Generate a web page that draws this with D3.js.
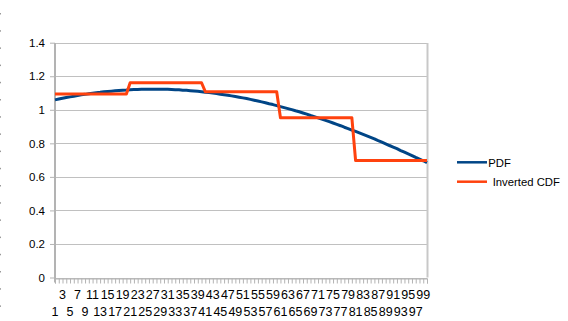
<!DOCTYPE html>
<html>
<head>
<meta charset="utf-8">
<script src="https://cdn.jsdelivr.net/npm/d3@7"></script>
<style>
  body { margin: 0; background: #fff; }
  svg { display: block; }
</style>
</head>
<body>
<div id="js_chart"></div>
<script>
// Data
const categories = d3.range(1, 101);

const pdfValues = [
  1.059, 1.064, 1.069, 1.073, 1.077, 1.081, 1.085, 1.089, 1.092, 1.096,
  1.099, 1.102, 1.104, 1.107, 1.109, 1.111, 1.113, 1.115, 1.117, 1.118,
  1.120, 1.121, 1.121, 1.122, 1.123, 1.123, 1.123, 1.123, 1.123, 1.122,
  1.122, 1.121, 1.120, 1.119, 1.117, 1.116, 1.114, 1.112, 1.110, 1.108,
  1.105, 1.103, 1.100, 1.097, 1.093, 1.090, 1.087, 1.083, 1.079, 1.075,
  1.071, 1.067, 1.062, 1.057, 1.052, 1.047, 1.042, 1.036, 1.031, 1.025,
  1.019, 1.013, 1.007, 1.001, 0.994, 0.988, 0.981, 0.974, 0.966, 0.959,
  0.952, 0.944, 0.937, 0.929, 0.921, 0.913, 0.905, 0.896, 0.888, 0.879,
  0.871, 0.862, 0.853, 0.844, 0.835, 0.826, 0.816, 0.807, 0.797, 0.787,
  0.778, 0.768, 0.757, 0.747, 0.737, 0.727, 0.716, 0.706, 0.696, 0.685
];

const cdfValues = [
  1.094, 1.094, 1.094, 1.094, 1.094, 1.094, 1.094, 1.094, 1.094, 1.094,
  1.094, 1.094, 1.094, 1.094, 1.094, 1.094, 1.094, 1.094, 1.094, 1.094,
  1.161, 1.161, 1.161, 1.161, 1.161, 1.161, 1.161, 1.161, 1.161, 1.161,
  1.161, 1.161, 1.161, 1.161, 1.161, 1.161, 1.161, 1.161, 1.161, 1.161,
  1.108, 1.108, 1.108, 1.108, 1.108, 1.108, 1.108, 1.108, 1.108, 1.108,
  1.108, 1.108, 1.108, 1.108, 1.108, 1.108, 1.108, 1.108, 1.108, 1.108,
  0.953, 0.953, 0.953, 0.953, 0.953, 0.953, 0.953, 0.953, 0.953, 0.953,
  0.953, 0.953, 0.953, 0.953, 0.953, 0.953, 0.953, 0.953, 0.953, 0.953,
  0.697, 0.697, 0.697, 0.697, 0.697, 0.697, 0.697, 0.697, 0.697, 0.697,
  0.697, 0.697, 0.697, 0.697, 0.697, 0.697, 0.697, 0.697, 0.697, 0.697
];

const seriesNames = ["PDF", "Inverted CDF"];
const seriesColors = ["#004586", "#ff420e"];
const yTicks = [0, 0.2, 0.4, 0.6, 0.8, 1, 1.2, 1.4];
const xLabels = categories.filter(function (c) { return c % 2 === 1; });

function createPlot() {
    const width = 568, height = 321;
    const plot = {left: 55, right: 427, top: 42.7, bottom: 277.5};
    const font = "'Liberation Sans', Arial, sans-serif";

    const svg = d3.select("#js_chart")
        .append("svg")
        .attr("width", width)
        .attr("height", height)
        .attr("font-family", font);

    const x = d3.scalePoint()
        .domain(categories)
        .range([plot.left, plot.right]);

    const y = d3.scaleLinear()
        .domain([0, 1.4])
        .range([plot.bottom, plot.top]);

    // faint dotted edge on the left
    svg.append("line")
        .attr("x1", 0.5).attr("x2", 0.5)
        .attr("y1", 13).attr("y2", height)
        .attr("stroke", "#9a9a9a")
        .attr("stroke-dasharray", "1.5,15.7");

    // Gridlines
    svg.append("g")
        .selectAll("line")
        .data(yTicks)
        .enter().append("line")
        .attr("x1", plot.left)
        .attr("x2", plot.right)
        .attr("y1", function (d) { return Math.round(y(d)) + 0.5; })
        .attr("y2", function (d) { return Math.round(y(d)) + 0.5; })
        .attr("stroke", "#c0c0c0");

    // right border
    svg.append("line")
        .attr("x1", plot.right + 0.5).attr("x2", plot.right + 0.5)
        .attr("y1", Math.round(plot.top)).attr("y2", plot.bottom)
        .attr("stroke", "#c8c8c8")
        .attr("stroke-width", 2);

    // Y axis
    const yAxis = svg.append("g")
        .attr("transform", "translate(" + plot.left + ",0)")
        .call(d3.axisLeft(y).tickValues(yTicks).tickSize(5).tickPadding(5)
            .tickFormat(function (d) { return String(d); }));
    yAxis.attr("font-family", font).attr("font-size", 11.5);
    yAxis.select(".domain").remove();
    yAxis.selectAll(".tick line").attr("stroke", "#b3b3b3");
    yAxis.selectAll("text").attr("fill", "#000");
    svg.append("line")
        .attr("x1", plot.left).attr("x2", plot.left)
        .attr("y1", Math.round(plot.top)).attr("y2", plot.bottom + 5)
        .attr("stroke", "#b3b3b3")
        .attr("stroke-width", 2);

    // X axis ticks
    const xAxis = svg.append("g")
        .attr("transform", "translate(0," + (Math.round(plot.bottom) + 0.5) + ")")
        .call(d3.axisBottom(x).tickSize(5).tickFormat(""));
    xAxis.select(".domain").attr("stroke", "#b3b3b3");
    xAxis.selectAll(".tick line").attr("stroke", "#b3b3b3");

    // Staggered x labels
    svg.append("g")
        .attr("font-size", 12.5)
        .selectAll("text")
        .data(xLabels)
        .enter().append("text")
        .attr("x", function (d) { return x(d); })
        .attr("y", function (d, i) { return i % 2 === 0 ? 315.5 : 298.5; })
        .attr("text-anchor", "middle")
        .attr("fill", "#000")
        .text(function (d) { return d; });

    // Lines
    const line = d3.line()
        .x(function (d, i) { return x(categories[i]); })
        .y(function (d) { return y(d); });

    [pdfValues, cdfValues].forEach(function (vals, k) {
        svg.append("path")
            .datum(vals)
            .attr("d", line)
            .attr("fill", "none")
            .attr("stroke", seriesColors[k])
            .attr("stroke-width", 3)
            .attr("stroke-linejoin", "round");
    });

    // Legend
    const legend = svg.append("g").attr("font-size", 11.3);
    const legendY = [162.3, 181.7];
    const legendTextX = [488.3, 492.7];
    seriesNames.forEach(function (name, k) {
        legend.append("line")
            .attr("x1", 457).attr("x2", 487)
            .attr("y1", legendY[k]).attr("y2", legendY[k])
            .attr("stroke", seriesColors[k])
            .attr("stroke-width", 2.5);
        legend.append("text")
            .attr("x", legendTextX[k])
            .attr("y", legendY[k] + 4.2)
            .attr("fill", "#000")
            .text(name);
    });
}

createPlot();
</script>
</body>
</html>
